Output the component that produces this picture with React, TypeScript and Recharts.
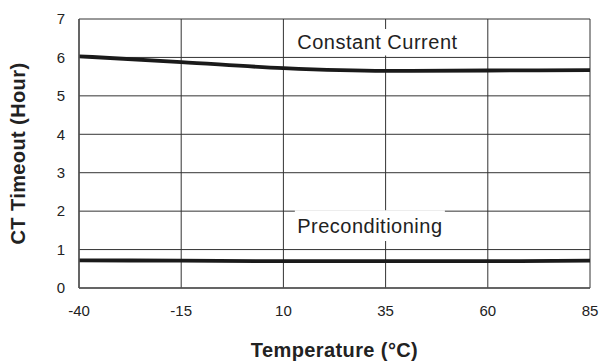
import {
  CartesianGrid,
  Label,
  Line,
  LineChart,
  ReferenceArea,
  XAxis,
  YAxis,
} from "recharts";

const temperatures = [-40, -15, 10, 35, 60, 85];
const constantCurrent = [6.03, 5.88, 5.72, 5.65, 5.66, 5.67];
const preconditioning = [0.72, 0.71, 0.7, 0.7, 0.7, 0.71];
const yTicks = [0, 1, 2, 3, 4, 5, 6, 7];

const data = temperatures.map((t, i) => ({
  temp: t,
  cc: constantCurrent[i],
  pre: preconditioning[i],
}));

const FONT = '"Liberation Sans", Arial, sans-serif';

function YTitle({ viewBox }: any) {
  const cx = 18;
  const cy = viewBox.y + viewBox.height / 2;
  return (
    <text
      x={cx}
      y={cy}
      transform={`rotate(-90, ${cx}, ${cy})`}
      textAnchor="middle"
      dominantBaseline="central"
      fontFamily={FONT}
      fontWeight="bold"
      fontSize={20}
      letterSpacing={0.4}
      fill="#222"
    >
      CT Timeout (Hour)
    </text>
  );
}

function XTitle({ viewBox }: any) {
  const cx = viewBox.x + viewBox.width / 2;
  return (
    <text
      x={cx}
      y={350}
      textAnchor="middle"
      dominantBaseline="central"
      fontFamily={FONT}
      fontWeight="bold"
      fontSize={20}
      letterSpacing={0.4}
      fill="#222"
    >
      Temperature (°C)
    </text>
  );
}

const boxLabel = {
  position: "center" as const,
  fontSize: 20,
  letterSpacing: 0.5,
  fill: "#222",
};

export default function App() {
  return (
    <div style={{ position: "absolute", left: 0, top: 0, background: "#fff" }}>
      <LineChart
        width={600}
        height={362}
        data={data}
        margin={{ top: 19, right: 10, left: 0, bottom: 0 }}
        style={{ fontFamily: FONT }}
      >
        <CartesianGrid stroke="#333" strokeWidth={1} />
        <XAxis
          dataKey="temp"
          type="number"
          domain={[-40, 85]}
          ticks={temperatures}
          height={74}
          tickLine={false}
          tickSize={6}
          tickMargin={11}
          axisLine={{ stroke: "#555", strokeWidth: 1.5 }}
          tick={{ fill: "#222", fontSize: 15 }}
        >
          <Label content={<XTitle />} />
        </XAxis>
        <YAxis
          type="number"
          domain={[0, 7]}
          ticks={yTicks}
          width={79}
          tickLine={false}
          tickSize={6}
          tickMargin={8}
          axisLine={{ stroke: "#555", strokeWidth: 1.5 }}
          tick={{ fill: "#222", fontSize: 15 }}
        >
          <Label content={<YTitle />} />
        </YAxis>
        <ReferenceArea
          x1={12.1}
          x2={53.9}
          y1={6.05}
          y2={6.74}
          fill="#fff"
          fillOpacity={1}
          stroke="none"
          label={{ ...boxLabel, value: "Constant Current" }}
        />
        <ReferenceArea
          x1={12.8}
          x2={49.5}
          y1={1.22}
          y2={2.02}
          fill="#fff"
          fillOpacity={1}
          stroke="none"
          label={{ ...boxLabel, value: "Preconditioning" }}
        />
        <Line
          dataKey="cc"
          type="monotone"
          stroke="#1a1a1a"
          strokeWidth={3.8}
          dot={false}
          isAnimationActive={false}
        />
        <Line
          dataKey="pre"
          type="monotone"
          stroke="#1a1a1a"
          strokeWidth={3.8}
          dot={false}
          isAnimationActive={false}
        />
      </LineChart>
    </div>
  );
}
